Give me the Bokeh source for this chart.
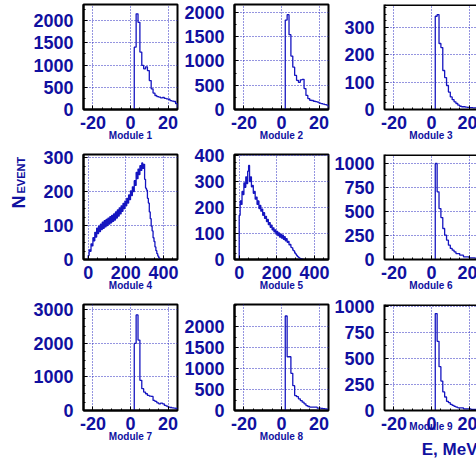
import math
from bokeh.plotting import figure
from bokeh.layouts import gridplot
from bokeh.models import Range1d, FixedTicker, Label, Title, Span
from bokeh.embed import file_html
from bokeh.resources import INLINE

TEXT = "#1010a0"
LINE = "#1515c0"
GRID = "#2a2ac0"
FONT = "Liberation Sans"

# ---------------- data ----------------
module_names = ["Module 1", "Module 2", "Module 3", "Module 4", "Module 5",
                "Module 6", "Module 7", "Module 8", "Module 9"]

# energy histograms (1 MeV bins), first non-empty bin starts at 2 MeV
e_start = 2
e_width = 1
m1 = [1400, 2150, 1960, 1290, 990, 915, 960, 875, 650, 465, 370, 315, 290, 280,
      260, 270, 250, 240, 230, 200, 190, 180, 130]
m2 = [1840, 1950, 1540, 1100, 870, 700, 600, 560, 610, 620, 430, 290, 225, 190,
      185, 170, 160, 150, 130, 120, 110, 100, 90]
m3 = [342, 348, 242, 227, 143, 117, 88, 64, 46, 36, 28, 22, 16, 12, 10, 10, 9,
      8, 7, 7, 6, 6, 5]
m6 = [1000, 705, 531, 437, 323, 253, 201, 149, 115, 97, 80, 62, 62, 45, 45, 28,
      28, 28, 17, 17, 17, 15, 12]
m7 = [2000, 2850, 2100, 900, 650, 550, 500, 450, 430, 420, 300, 270, 230, 200,
      220, 200, 150, 130, 100, 90, 80, 70, 60]
m8 = [2250, 1280, 1280, 885, 590, 355, 330, 277, 237, 198, 158, 118, 95, 80,
      80, 80, 80, 55, 55, 50, 45, 40, 35]
m9 = [933, 666, 422, 283, 179, 130, 88, 75, 58, 49, 39, 32, 26, 26, 26, 16, 16,
      16, 16, 10, 10, 10, 10]

# amplitude histograms (5 channel bins) starting at 0
a_start = 0
a_width = 5
m4 = [12, 28, 24, 46, 40, 64, 55, 80, 66, 92, 76, 98, 82, 104, 88, 110, 92, 114,
      96, 118, 100, 122, 104, 126, 108, 130, 112, 134, 116, 140, 122, 146, 128,
      152, 134, 158, 142, 165, 150, 172, 158, 180, 166, 190, 176, 202, 188, 214,
      200, 232, 218, 256, 238, 266, 250, 276, 262, 284, 268, 280, 236, 210, 204,
      180, 166, 140, 120, 98, 84, 64, 53, 37, 26, 17, 10, 5, 2, 1]
m5 = [170, 225, 212, 262, 250, 295, 278, 318, 292, 340, 362, 300, 318, 280, 285,
      255, 262, 232, 240, 212, 225, 196, 208, 186, 194, 170, 180, 158, 166, 146,
      154, 134, 142, 124, 132, 114, 122, 106, 114, 98, 108, 92, 102, 86, 98, 82,
      94, 78, 88, 72, 80, 66, 70, 56, 58, 47, 45, 36, 33, 25, 21, 15, 11, 8, 5,
      3, 2, 1]

# axis ranges and ticks
y_max = [2360, 2160, 385, 309, 404, 1094, 3160, 2524, 1020]
y_major = [500, 500, 100, 100, 100, 250, 1000, 500, 250]
y_minor = [250, 250, 25, 25, 25, 125, 250, 250, 125]
y_label_max = [2000, 2000, 300, 300, 400, 1000, 3000, 2000, 1000]

e_range = (-25, 25)
e_major = [-20, 0, 20]
e_minor_step = 5
a_range = (-25, 475)
a_major = [0, 200, 400]
a_minor_step = 50

y_title_main = "N"
y_title_sub = "EVENT"
x_title = "E, MeV"

# ---------------- layout geometry ----------------
title_col_w = 22
col_left = [52, 53, 53]
col_right = [4, 3, 0]
col_fw = [94, 94, 93]
row_top = [1, 9, 9]
row_fh = [105, 105, 106]
row_bottom = [36, 36, 49]
row_h = [t + f + b for t, f, b in zip(row_top, row_fh, row_bottom)]


def hist_xy(start, width, vals):
    xs, ys = [start], [0]
    for i, v in enumerate(vals):
        x0 = start + i * width
        xs += [x0, x0 + width]
        ys += [v, v]
    xs.append(start + len(vals) * width)
    ys.append(0)
    return xs, ys


def blank(w, h):
    b = figure(frame_width=w, frame_height=h, x_range=Range1d(0, w),
               y_range=Range1d(0, h), min_border=0, x_axis_location=None,
               y_axis_location=None, output_backend="svg", toolbar_location=None)
    b.outline_line_color = None
    b.background_fill_color = "white"
    b.border_fill_color = "white"
    for g in b.grid:
        g.visible = False
    return b


hists = [(e_start, e_width, m1), (e_start, e_width, m2), (e_start, e_width, m3),
         (a_start, a_width, m4), (a_start, a_width, m5), (e_start, e_width, m6),
         (e_start, e_width, m7), (e_start, e_width, m8), (e_start, e_width, m9)]

figs = []
for k in range(9):
    r, c = divmod(k, 3)
    fw, fh = col_fw[c], row_fh[r]
    amp = k in (3, 4)
    x0, x1 = a_range if amp else e_range
    # keep the same pixel scale for the narrower right column
    x1 = x0 + (x1 - x0) * fw / 94.0
    p = figure(frame_width=fw, frame_height=fh,
               x_range=Range1d(x0, x1), y_range=Range1d(0, y_max[k]),
               min_border_left=col_left[c], min_border_right=col_right[c],
               min_border_top=row_top[r], min_border_bottom=row_bottom[r],
               output_backend="svg", toolbar_location=None)
    p.background_fill_color = "white"
    p.border_fill_color = "white"
    if c < 2:
        p.outline_line_color = "black"
        p.outline_line_width = 2
    else:
        # right frame edge lies just outside the picture
        p.outline_line_color = None
        p.add_layout(Span(location=y_max[k], dimension="width",
                          line_color="black", line_width=3))

    if amp:
        xmaj = a_major
        xmin = list(range(0, 451, a_minor_step))
    else:
        xmaj = e_major
        xmin = list(range(-25, 26, e_minor_step))
    ymaj = list(range(0, y_label_max[k] + 1, y_major[k]))
    ymin = list(range(0, int(y_max[k]) + 1, y_minor[k]))

    p.xaxis.ticker = FixedTicker(ticks=xmaj, minor_ticks=xmin)
    p.yaxis.ticker = FixedTicker(ticks=ymaj, minor_ticks=ymin)
    p.xaxis.major_label_overrides = {t: str(t) for t in xmaj}
    p.yaxis.major_label_overrides = {t: str(t) for t in ymaj}
    for ax in (p.xaxis, p.yaxis):
        ax.axis_line_color = "black"
        ax.axis_line_width = 2
        ax.major_tick_in = 4
        ax.major_tick_out = 0
        ax.minor_tick_in = 2
        ax.minor_tick_out = 0
        ax.major_tick_line_color = "black"
        ax.minor_tick_line_color = "black"
        ax.major_label_text_font = FONT
        ax.major_label_text_font_style = "bold"
        ax.major_label_text_font_size = "18px"
        ax.major_label_text_color = TEXT
    p.xaxis.major_label_standoff = 6
    p.yaxis.major_label_standoff = 10

    p.xaxis.axis_label = module_names[k]
    p.xaxis.axis_label_text_font = FONT
    p.xaxis.axis_label_text_font_style = "bold"
    p.xaxis.axis_label_text_font_size = "10px"
    p.xaxis.axis_label_text_color = TEXT
    p.xaxis.axis_label_standoff = -12 if k == 8 else -2

    for g in (p.xgrid, p.ygrid):
        g.grid_line_color = GRID
        g.grid_line_dash = "1 2"
        g.grid_line_width = 1

    start, width, vals = hists[k]
    xs, ys = hist_xy(start, width, vals)
    p.line(xs, ys, line_color=LINE, line_width=1.3)
    figs.append(p)

# x-axis title under the last panel, right-aligned to its frame
figs[8].add_layout(Title(text=x_title, align="right", standoff=6,
                         text_font=FONT, text_font_style="bold", text_font_size="17px",
                         text_color=TEXT), "below")

# y-axis title in its own strip left of the middle row
ytf = blank(title_col_w, row_h[1])
ytf.add_layout(Label(x=10, y=96, text=y_title_main, angle=math.pi / 2,
                     text_font=FONT, text_font_style="bold", text_font_size="18px",
                     text_color=TEXT, text_align="left", text_baseline="alphabetic"))
ytf.add_layout(Label(x=12, y=111, text=y_title_sub, angle=math.pi / 2,
                     text_font=FONT, text_font_style="bold", text_font_size="11px",
                     text_color=TEXT, text_align="left", text_baseline="alphabetic"))

rows = [[None] + figs[0:3], [ytf] + figs[3:6], [None] + figs[6:9]]
grid = gridplot(rows, toolbar_location=None)
grid.styles = {"position": "absolute", "top": "3px", "left": "8px"}

open("out.html", "w").write(file_html(grid, INLINE))
